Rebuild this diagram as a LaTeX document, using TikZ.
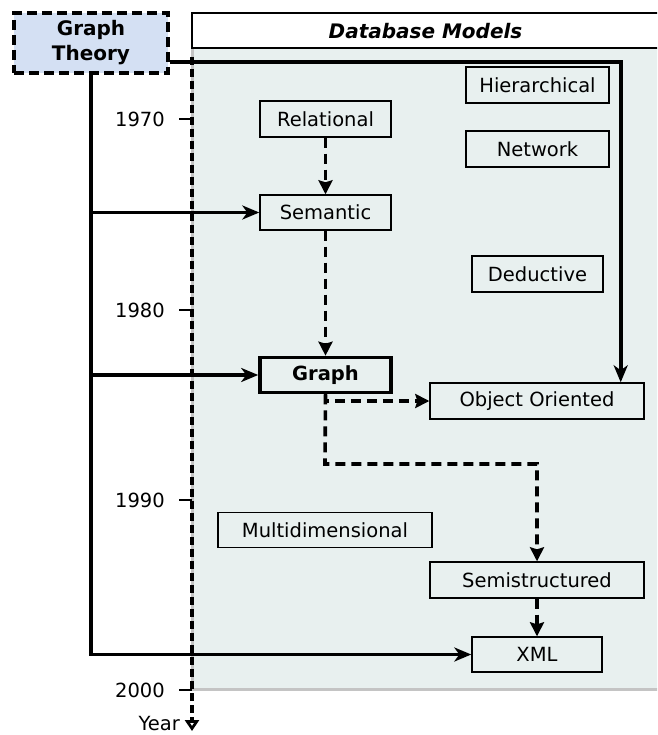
\documentclass[tikz,border=0pt]{standalone}
\usepackage{fontspec}
\setmainfont{DejaVu Sans}
\usetikzlibrary{arrows.meta}
\definecolor{panelfill}{RGB}{232,240,239}
\definecolor{theoryfill}{RGB}{212,224,243}
\definecolor{edgegray}{RGB}{196,196,196}
\tikzset{
  x=1pt, y=-1pt,
  model/.style={draw=black, line width=1.4pt, fill=panelfill, inner sep=0pt,
    font=\fontsize{19.5}{23}\selectfont},
  keymodel/.style={model, line width=3.6pt, font=\fontsize{19.5}{23}\selectfont\bfseries},
  theory/.style={draw=black, line width=3.6pt, dash pattern=on 10pt off 5pt,
    fill=theoryfill, inner sep=0pt, align=center,
    font=\fontsize{20}{25}\selectfont\bfseries},
  link/.style={line width=3.6pt, -{Stealth[length=17pt,width=14pt,inset=5pt]}},
  evolve/.style={line width=3.6pt, dash pattern=on 10pt off 6pt,
    -{Stealth[length=14pt,width=14pt,inset=2pt]}},
  yearaxis/.style={line width=3.6pt, dash pattern=on 8pt off 4pt,
    -{Triangle[open,length=11pt,width=14pt,line width=3pt]}},
  tick/.style={line width=2.4pt},
  yearlabel/.style={anchor=east, inner sep=0pt, font=\fontsize{19.5}{23}\selectfont},
}
\begin{document}
\begin{tikzpicture}
\useasboundingbox (0,0) rectangle (657,735);
\clip (0,0) rectangle (657,735);

% panel of database models
\fill[panelfill] (192,48) rectangle (690,689);
\draw[edgegray, line width=3pt] (192,48) -- (192,689) -- (690,689);
\draw[line width=1.8pt, fill=white] (192,13) rectangle (690,48);
\node[font=\fontsize{20}{24}\selectfont\bfseries\itshape] (hdr) at (425.5,31) {Database Models};

% time axis
\coordinate (axtop) at (192,57);
\coordinate (axend) at (192,731);
\draw[yearaxis] (axtop) -- (axend);
\node[yearlabel, anchor=base east] (yearname) at (180,730) {Year};
\foreach \yr/\yy in {1970/119, 1980/310, 1990/500, 2000/690} {
  \coordinate (t\yr) at (192,\yy);
  \draw[tick] (179,\yy) -- (t\yr);
  \node[yearlabel] (l\yr) at (165,\yy) {\yr};
}

% models
\node[theory, minimum width=154pt, minimum height=60pt] (gt) at (91,43) {Graph\\Theory};
\node[model, minimum width=143pt, minimum height=36pt] (hier) at (537.5,85) {Hierarchical};
\node[model, minimum width=143pt, minimum height=36pt] (net) at (537.5,149) {Network};
\node[model, minimum width=131pt, minimum height=36pt] (rel) at (325.5,119) {Relational};
\node[model, minimum width=131pt, minimum height=35pt] (sem) at (325.5,212.5) {Semantic};
\node[model, minimum width=131pt, minimum height=36pt] (ded) at (537.5,274) {Deductive};
\node[keymodel, minimum width=131pt, minimum height=35pt] (graph) at (325.5,375) {Graph};
\node[model, minimum width=214pt, minimum height=36pt] (oo) at (537,401) {Object Oriented};
\node[model, minimum width=214pt, minimum height=35pt] (multi) at (325,530) {Multidimensional};
\node[model, minimum width=214pt, minimum height=36pt] (semi) at (537,580) {Semistructured};
\node[model, minimum width=130pt, minimum height=35pt] (xml) at (537,654.5) {XML};

% influence of graph theory
\draw[link] (gt.south) |- (xml.west);
\draw[link] (gt.south |- sem.west) -- (sem.west);
\draw[link] (gt.south |- graph.west) -- (graph.west);
\draw[link] ([yshift=13pt]gt.south east) -| ([xshift=-24pt]oo.north east);

% evolution between models
\coordinate (split) at (325,464);
\draw[evolve] (rel.south) -- (sem.north);
\draw[evolve] (sem.south) -- (graph.north);
\draw[evolve] (graph.south) |- (oo.west);
\draw[evolve] (graph.south) -- (split) -| (semi.north);
\draw[evolve] (semi.south) -- (xml.north);
\end{tikzpicture}
\end{document}
